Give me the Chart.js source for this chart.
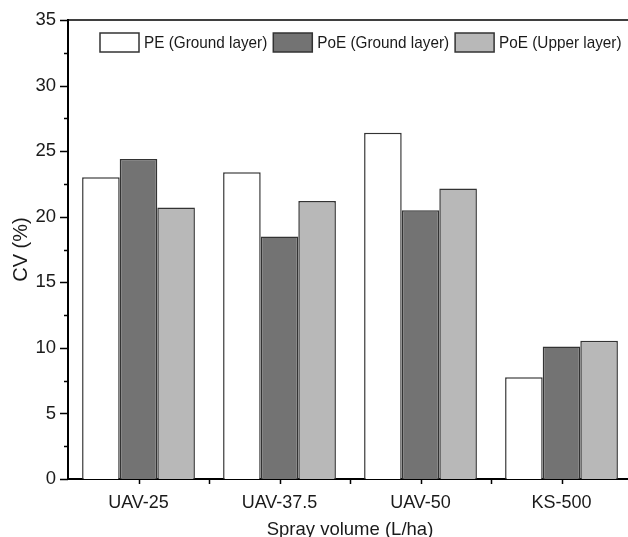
<!DOCTYPE html>
<html>
<head>
<meta charset="utf-8">
<script src="https://cdn.jsdelivr.net/npm/chart.js@4/dist/chart.umd.min.js"></script>
<style>
  html, body { margin: 0; padding: 0; background: #fff; overflow: hidden; }
  #wrap { width: 632px; height: 537px; position: relative; }
</style>
</head>
<body>
<div id="wrap"><canvas id="chart"></canvas></div>
<script>
const categories = ['UAV-25', 'UAV-37.5', 'UAV-50', 'KS-500'];
const seriesNames = ['PE (Ground layer)', 'PoE (Ground layer)', 'PoE (Upper layer)'];
const peGround = [23.0, 23.4, 26.4, 7.75];
const poeGround = [24.4, 18.5, 20.5, 10.1];
const poeUpper = [20.7, 21.2, 22.15, 10.55];
const fills = ['#ffffff', '#737373', '#b8b8b8'];
const yTicks = [0, 5, 10, 15, 20, 25, 30, 35];

const FONT = "'Liberation Sans', Arial, sans-serif";
const INK = '#1a1a1a';

// outward tick marks, minor ticks, top frame line and the legend
const decor = {
  id: 'decor',
  afterDraw(chart) {
    const ctx = chart.ctx;
    const area = chart.chartArea;
    const x = chart.scales.x, y = chart.scales.y;
    ctx.save();
    ctx.strokeStyle = '#000';
    ctx.lineWidth = 1.5;
    ctx.beginPath();
    ctx.moveTo(area.left - 1, area.top);
    ctx.lineTo(area.right + 2, area.top);
    // y ticks
    for (let v = 0; v <= 35; v += 2.5) {
      const py = Math.round(y.getPixelForValue(v)) + 0.5;
      const len = v % 5 === 0 ? 8 : 4;
      ctx.moveTo(area.left - len, py);
      ctx.lineTo(area.left, py);
    }
    // x ticks at centres and boundaries
    categories.forEach((c, i) => {
      const px = Math.round(x.getPixelForValue(i)) + 0.5;
      ctx.moveTo(px, area.bottom);
      ctx.lineTo(px, area.bottom + 5);
      if (i > 0) {
        const bx = Math.round((x.getPixelForValue(i) + x.getPixelForValue(i - 1)) / 2) + 0.5;
        ctx.moveTo(bx, area.bottom);
        ctx.lineTo(bx, area.bottom + 5);
      }
    });
    ctx.stroke();

    // legend inside plot (slightly condensed text like the original)
    const sx = 0.9;
    ctx.font = '17px ' + FONT;
    ctx.textBaseline = 'middle';
    let lx = area.left + 32;
    const ly = area.top + 13;
    chart.data.datasets.forEach(ds => {
      ctx.fillStyle = ds.backgroundColor;
      ctx.fillRect(lx, ly, 39, 19);
      ctx.strokeStyle = '#333';
      ctx.lineWidth = 1.5;
      ctx.strokeRect(lx, ly, 39, 19);
      ctx.fillStyle = INK;
      ctx.save();
      ctx.translate(lx + 44, ly + 10);
      ctx.scale(sx, 1);
      ctx.fillText(ds.label, 0, 0);
      ctx.restore();
      lx += 44 + ctx.measureText(ds.label).width * sx + 6;
    });
    ctx.restore();
  }
};

new Chart(document.getElementById('chart'), {
  type: 'bar',
  data: {
    labels: categories,
    datasets: [
      { label: seriesNames[0], data: peGround, backgroundColor: fills[0] },
      { label: seriesNames[1], data: poeGround, backgroundColor: fills[1] },
      { label: seriesNames[2], data: poeUpper, backgroundColor: fills[2] }
    ].map(d => Object.assign(d, {
      borderColor: '#333',
      borderWidth: 1.5,
      categoryPercentage: 0.8,
      barPercentage: 1.0
    }))
  },
  options: {
    responsive: true,
    maintainAspectRatio: false,
    animation: false,
    layout: { padding: { top: 20, left: 0, right: 0, bottom: 0 } },
    plugins: { legend: { display: false }, tooltip: { enabled: false } },
    scales: {
      x: {
        grid: { display: false, drawTicks: false },
        border: { display: true, color: '#000', width: 2 },
        ticks: { color: INK, font: { family: FONT, size: 18 }, padding: 13, maxRotation: 0 },
        title: {
          display: true, text: 'Spray volume (L/ha)', color: INK,
          font: { family: FONT, size: 18.5 }, padding: { top: 0, bottom: -4 }
        },
        afterFit: s => { s.height = 58; s.paddingLeft = 0; s.paddingRight = 0; }
      },
      y: {
        min: 0, max: 35,
        afterBuildTicks: s => { s.ticks = yTicks.map(v => ({ value: v })); },
        grid: { display: false, drawTicks: false },
        border: { display: true, color: '#000', width: 2 },
        ticks: { color: INK, font: { family: FONT, size: 18.5 }, padding: 12 },
        title: {
          display: true, text: 'CV (%)', color: INK,
          font: { family: FONT, size: 20 }, padding: { top: 9, bottom: 0 }
        },
        afterFit: s => { s.width = 68; s.paddingTop = 0; s.paddingBottom = 0; }
      }
    }
  },
  plugins: [decor]
});
</script>
</body>
</html>
